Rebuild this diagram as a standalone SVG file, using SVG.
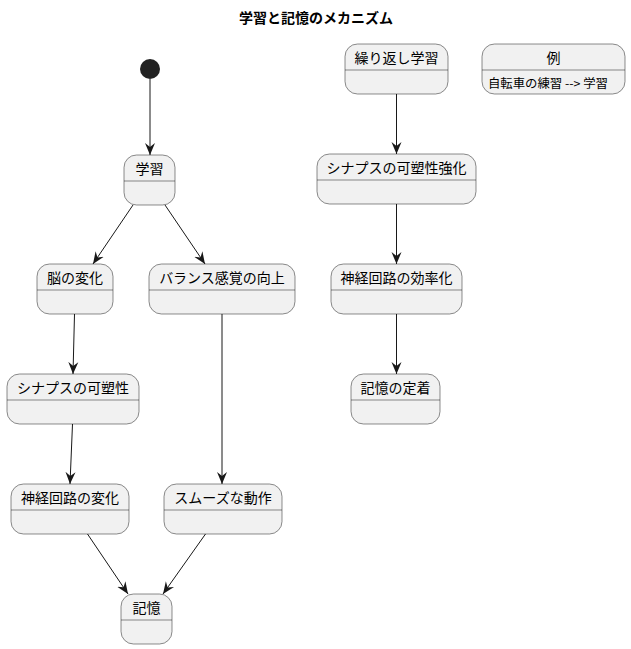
<svg xmlns="http://www.w3.org/2000/svg" width="631" height="649" viewBox="0 0 631 649">
<defs>
<style>
.st rect{fill:#F1F1F1;stroke:#181818;stroke-width:0.5}
.st line{stroke:#181818;stroke-width:0.5}
text{font-family:"Noto Sans CJK JP","Liberation Sans",sans-serif;fill:#000}
.n{font-size:14px;text-anchor:middle}
.b{font-size:12px}
.title{font-size:14px;font-weight:bold;text-anchor:middle}
.e line{stroke:#181818;stroke-width:1;marker-end:url(#ah)}
</style>
<marker id="ah" viewBox="0 0 12 12" refX="12" refY="6" markerWidth="12" markerHeight="12" markerUnits="userSpaceOnUse" orient="auto">
<polygon points="12,6 0,1 4,6 0,11" fill="#181818"/>
</marker>
</defs>
<rect width="631" height="649" fill="#FFFFFF"/>
<text class="title" x="316" y="23">学習と記憶のメカニズム</text>

<g id="start"><circle cx="150" cy="69" r="10" fill="#222222"/></g>

<g id="gakushu" class="st"><rect x="124" y="155" width="51" height="50" rx="12.5"/><line x1="124" y1="181" x2="175" y2="181"/><text class="n" x="149.5" y="174">学習</text></g>
<g id="nou" class="st"><rect x="37" y="264" width="76" height="50" rx="12.5"/><line x1="37" y1="290" x2="113" y2="290"/><text class="n" x="75" y="283">脳の変化</text></g>
<g id="balance" class="st"><rect x="149" y="264" width="146" height="50" rx="12.5"/><line x1="149" y1="290" x2="295" y2="290"/><text class="n" x="222" y="283">バランス感覚の向上</text></g>
<g id="synapse" class="st"><rect x="7" y="374" width="132" height="50" rx="12.5"/><line x1="7" y1="400" x2="139" y2="400"/><text class="n" x="73" y="393">シナプスの可塑性</text></g>
<g id="shinkei" class="st"><rect x="11" y="484" width="118" height="50" rx="12.5"/><line x1="11" y1="510" x2="129" y2="510"/><text class="n" x="70" y="503">神経回路の変化</text></g>
<g id="smooth" class="st"><rect x="164" y="484" width="118" height="50" rx="12.5"/><line x1="164" y1="510" x2="282" y2="510"/><text class="n" x="223" y="503">スムーズな動作</text></g>
<g id="kioku" class="st"><rect x="121" y="594" width="51" height="50" rx="12.5"/><line x1="121" y1="620" x2="172" y2="620"/><text class="n" x="146.5" y="613">記憶</text></g>

<g id="kurikaeshi" class="st"><rect x="345" y="44" width="103" height="50" rx="12.5"/><line x1="345" y1="70" x2="448" y2="70"/><text class="n" x="396.5" y="63">繰り返し学習</text></g>
<g id="rei" class="st"><rect x="482" y="44" width="143" height="50" rx="12.5"/><line x1="482" y1="70" x2="625" y2="70"/><text class="n" x="553.5" y="63">例</text><text class="b" x="488" y="88" textLength="120" lengthAdjust="spacingAndGlyphs">自転車の練習 --&gt; 学習</text></g>
<g id="kyouka" class="st"><rect x="317" y="154" width="159" height="50" rx="12.5"/><line x1="317" y1="180" x2="476" y2="180"/><text class="n" x="396.5" y="173">シナプスの可塑性強化</text></g>
<g id="kouritsu" class="st"><rect x="331" y="264" width="131" height="50" rx="12.5"/><line x1="331" y1="290" x2="462" y2="290"/><text class="n" x="396.5" y="283">神経回路の効率化</text></g>
<g id="teichaku" class="st"><rect x="351" y="374" width="89" height="50" rx="12.5"/><line x1="351" y1="400" x2="440" y2="400"/><text class="n" x="395.5" y="393">記憶の定着</text></g>

<g id="connectors" class="e">
<line x1="150" y1="79" x2="150" y2="155"/>
<line x1="133" y1="205" x2="93" y2="264"/>
<line x1="165" y1="205" x2="205" y2="264"/>
<line x1="74.5" y1="314" x2="73" y2="374"/>
<line x1="72.5" y1="424" x2="70" y2="484"/>
<line x1="222" y1="314" x2="222" y2="484"/>
<line x1="87.5" y1="534" x2="128" y2="594"/>
<line x1="205.5" y1="534" x2="163" y2="594"/>
<line x1="396.5" y1="94" x2="396.5" y2="154"/>
<line x1="396.5" y1="204" x2="396.5" y2="264"/>
<line x1="396.5" y1="314" x2="396.5" y2="374"/>
</g>
</svg>
